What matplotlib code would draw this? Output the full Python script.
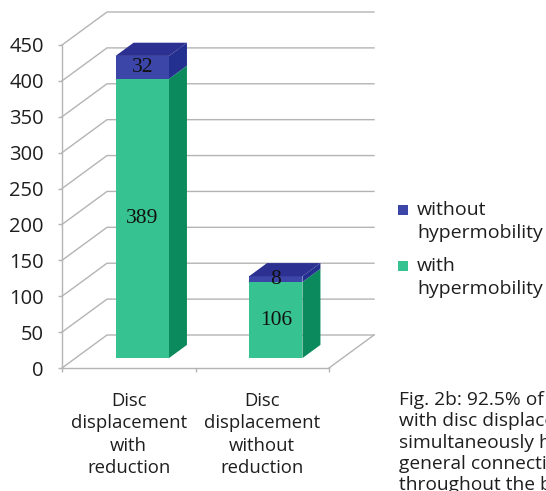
import numpy as np
import matplotlib as mpl
mpl.use("Agg")
import matplotlib.pyplot as plt
from matplotlib.patches import Polygon, Rectangle

# data
categories = ['Disc\ndisplacement\nwith\nreduction',
              'Disc\ndisplacement\nwithout\nreduction']
with_hyper = [389, 106]
without_hyper = [32, 8]
yticks = list(range(0, 451, 50))

# colours
green_front = '#37C391'
green_side = '#0B8A5D'
blue_front = '#3C45A8'
blue_top = '#2C3091'
blue_side = '#24308F'
grid_col = '#B4B4B4'
txt_col = '#1E1E1E'

fig = plt.figure(figsize=(5.46, 4.91), dpi=100)
ax = fig.add_axes([62/546, 123/491, 267/546, 323/491])
ax.set_xlim(0, 2)
ax.set_ylim(0, 450)

# depth of the 3d box in data units
DX = 45/133.5
DY = 33/0.7178

def proj(x, y, z):
    return (x + z*DX, y + z*DY)

# back wall, diagonals and floor
for v in yticks:
    p0, p1, p2 = proj(0, v, 0), proj(0, v, 1), proj(2, v, 1)
    ax.plot([p0[0], p1[0], p2[0]], [p0[1], p1[1], p2[1]], color=grid_col,
            lw=1, clip_on=False, zorder=1)
a, b = proj(2, 0, 0), proj(2, 0, 1)
ax.plot([a[0], b[0]], [a[1], b[1]], color=grid_col, lw=1, clip_on=False, zorder=1)

# bars
w = 0.4
z0, z1 = 0.3, 0.7
centers = np.arange(len(categories)) + 0.5

def box(c, y0, y1, front, side, top=None, label=None):
    xl, xr = c - w/2, c + w/2
    ax.add_patch(Polygon([proj(xr, y0, z0), proj(xr, y0, z1), proj(xr, y1, z1),
                          proj(xr, y1, z0)], closed=True, fc=side, ec='none',
                         clip_on=False, zorder=3))
    ax.add_patch(Polygon([proj(xl, y0, z0), proj(xr, y0, z0), proj(xr, y1, z0),
                          proj(xl, y1, z0)], closed=True, fc=front, ec='none',
                         clip_on=False, zorder=3))
    if top is not None:
        ax.add_patch(Polygon([proj(xl, y1, z0), proj(xr, y1, z0), proj(xr, y1, z1),
                              proj(xl, y1, z1)], closed=True, fc=top, ec='none',
                             clip_on=False, zorder=3))
    if label is not None:
        tx, ty = proj(c, (y0 + y1)/2, z0)
        ax.text(tx, ty, label, ha='center', va='center', fontsize=15.5,
                family='Liberation Serif', color='#111111', zorder=5)

for c, g, bl in zip(centers, with_hyper, without_hyper):
    box(c, 0, g, green_front, green_side, label=str(g))
    box(c, g, g + bl, blue_front, blue_side, top=blue_top, label=str(bl))

# axes styling
for s in ['top', 'right']:
    ax.spines[s].set_visible(False)
for s in ['left', 'bottom']:
    ax.spines[s].set_color(grid_col)
    ax.spines[s].set_linewidth(1)
ax.set_yticks(yticks)
ax.tick_params(axis='y', direction='out', length=3, width=1, color=grid_col,
               pad=10, labelsize=14.5, labelcolor=txt_col)
for t in ax.get_yticklabels():
    t.set_family('Open Sans')
ax.set_xticks(centers)
ax.set_xticklabels(categories, family='Open Sans', fontsize=13.3, linespacing=1.32,
                   color=txt_col)
ax.set_xticks([0, 1, 2], minor=True)
ax.tick_params(axis='x', which='major', length=0, pad=17)
ax.tick_params(axis='x', which='minor', direction='out', length=3, width=1,
               color=grid_col)
ax.patch.set_visible(False)

# legend, drawn by hand so squares sit on the first line
leg = [('without\nhypermobility', blue_front, 210), ('with\nhypermobility', green_front, 266)]
for txt, col, ypx in leg:
    fig.patches.append(Rectangle((398/546, 1 - (ypx + 5)/491), 10/546, 10/491,
                                 transform=fig.transFigure, fc=col, ec='none'))
    fig.text(417/546, 1 - (ypx - 9)/491, txt, ha='left', va='top',
             family='Open Sans', fontsize=14, color=txt_col, linespacing=1.38)

# caption (runs off the page like the original)
caption = ('Fig. 2b: 92.5% of the patients\n'
           'with disc displacement had\n'
           'simultaneously hypermobility of\n'
           'general connective tissue\n'
           'throughout the body')
fig.text(399/546, 1 - 391/491, caption, ha='left', va='top', family='Open Sans',
         fontsize=13.8, color=txt_col, linespacing=1.24)

fig.savefig('out.png', dpi=100)
